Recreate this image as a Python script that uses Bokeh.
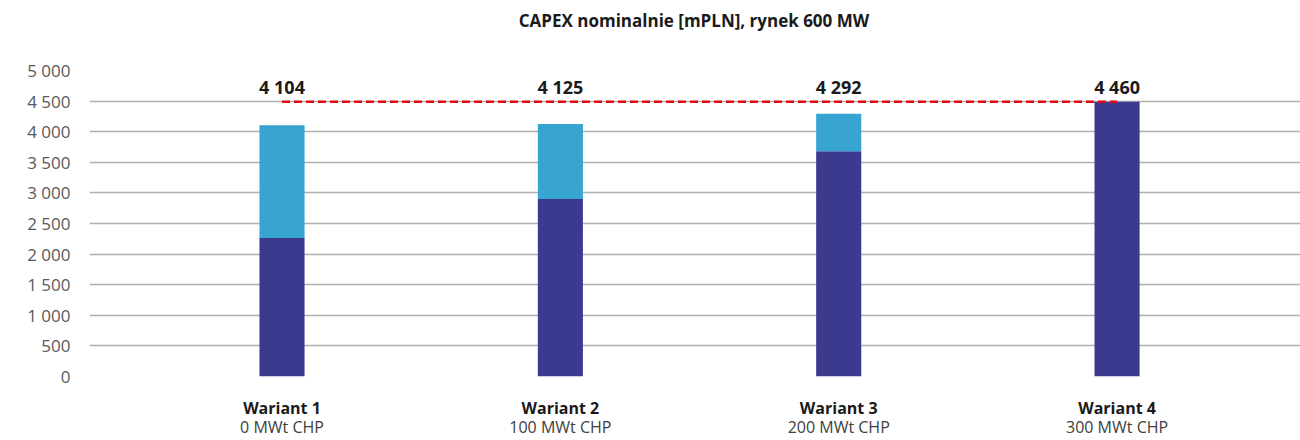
from bokeh.plotting import figure
from bokeh.models import FixedTicker, LinearAxis, ColumnDataSource, Range1d
from bokeh.core.properties import value
from bokeh.embed import file_html
from bokeh.resources import INLINE

# ---- data ----
categories = ["Wariant 1", "Wariant 2", "Wariant 3", "Wariant 4"]
subtitles = ["0 MWt CHP", "100 MWt CHP", "200 MWt CHP", "300 MWt CHP"]
dark_values = [2265, 2900, 3680, 4490]
light_values = [1839, 1225, 612, 0]
total_labels = ["4 104", "4 125", "4 292", "4 460"]
reference_level = 4490
y_ticks = [0, 500, 1000, 1500, 2000, 2500, 3000, 3500, 4000, 4500, 5000]
y_tick_labels = ["0", "500", "1 000", "1 500", "2 000", "2 500", "3 000",
                 "3 500", "4 000", "4 500", "5 000"]
chart_title = "CAPEX nominalnie [mPLN], rynek 600 MW"

FONT = "Open Sans"
DARK = "#3B3A8E"
LIGHT = "#37A4D2"

xs = list(range(len(categories)))
stack_top = [d + l for d, l in zip(dark_values, light_values)]
src = ColumnDataSource(dict(x=xs, dark=dark_values, top=stack_top,
                            lbl=total_labels))

X0, X1 = -0.6916, 3.659
TITLE_X = 1.48  # horizontal centre of the plot frame (in x units)

p = figure(width=1300, height=440, output_backend="svg", toolbar_location=None,
           x_range=Range1d(X0, X1), y_range=Range1d(0, 5000),
           min_border_left=89, min_border_right=0, min_border_top=70,
           min_border_bottom=63, outline_line_color=None)


def bare_axis(ax):
    ax.axis_line_color = None
    ax.major_tick_line_color = None
    ax.minor_tick_line_color = None
    ax.major_tick_out = 0
    ax.major_tick_in = 0


# default bottom x axis: bold category names
xa = p.below[0]
xa.ticker = FixedTicker(ticks=xs)
xa.major_label_overrides = {i: c for i, c in zip(xs, categories)}
bare_axis(xa)
xa.major_label_standoff = 20
xa.major_label_text_font = FONT
xa.major_label_text_font_size = "16px"
xa.major_label_text_font_style = "bold"
xa.major_label_text_color = "#1a1a1a"

# second x axis: subtitles
xa2 = LinearAxis(ticker=FixedTicker(ticks=xs),
                 major_label_overrides={i: s for i, s in zip(xs, subtitles)})
bare_axis(xa2)
xa2.major_label_standoff = -6
xa2.major_label_text_font = FONT
xa2.major_label_text_font_size = "16px"
xa2.major_label_text_color = "#404040"
p.add_layout(xa2, "below")

# y axis
ya = p.left[0]
ya.ticker = FixedTicker(ticks=y_ticks)
ya.major_label_overrides = {t: s for t, s in zip(y_ticks, y_tick_labels)}
bare_axis(ya)
ya.major_label_standoff = 19
ya.major_label_text_font = FONT
ya.major_label_text_font_size = "17px"
ya.major_label_text_color = "#595959"

# title as a single-label axis above the frame
ta = LinearAxis(ticker=FixedTicker(ticks=[TITLE_X]),
                major_label_overrides={TITLE_X: chart_title})
bare_axis(ta)
ta.major_label_standoff = 39
ta.major_label_text_font = FONT
ta.major_label_text_font_size = "17px"
ta.major_label_text_font_style = "bold"
ta.major_label_text_color = "#1a1a1a"
p.add_layout(ta, "above")

# grid
p.xgrid.grid_line_color = None
p.ygrid.ticker = FixedTicker(ticks=y_ticks)
p.ygrid.grid_line_color = "#B0B0B0"
p.ygrid.grid_line_width = 1.5

# bars
BW = 0.162
p.vbar(x="x", bottom=0, top="dark", width=BW, fill_color=DARK,
       line_color=None, source=src)
p.vbar(x="x", bottom="dark", top="top", width=BW, fill_color=LIGHT,
       line_color=None, source=src)

# reference dashed line (from first to last variant)
p.line(x=[xs[0], xs[-1]], y=[reference_level, reference_level],
       line_color="#E30613", line_width=2.5, line_dash="8 4")

# total labels
LABEL_Y = 4735
p.text(x="x", y=LABEL_Y, text="lbl", source=src, text_align="center",
       text_baseline="middle", text_font=value(FONT), text_font_style="bold",
       text_font_size="18px", text_color="#1a1a1a")

open("out.html", "w").write(file_html(p, INLINE))
